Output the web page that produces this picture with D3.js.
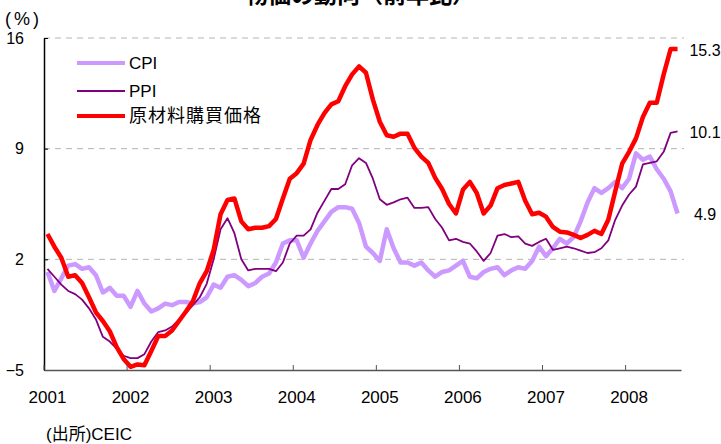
<!DOCTYPE html>
<html>
<head>
<meta charset="utf-8">
<script src="https://cdn.jsdelivr.net/npm/d3@7"></script>
<style>
  body { margin: 0; background: #fff; }
  svg { display: block; font-family: "Liberation Sans", "Noto Sans CJK JP", sans-serif; }
</style>
</head>
<body>
<div id="wrapper"></div>
<script>
// monthly, Jan 2001 - Aug 2008, % y/y
const yearLabels = ["2001", "2002", "2003", "2004", "2005", "2006", "2007", "2008"]
const yTicks = [-5, 2, 9, 16]

const cpi = [
  1.2, 0.0, 0.8, 1.6, 1.7, 1.4, 1.5, 1.0, -0.1, 0.2, -0.3, -0.3,
  -1.0, 0.0, -0.8, -1.3, -1.1, -0.8, -0.9, -0.7, -0.7, -0.8, -0.7, -0.4,
  0.4, 0.2, 0.9, 1.0, 0.7, 0.3, 0.5, 0.9, 1.1, 1.8, 3.0, 3.2,
  3.2, 2.1, 3.0, 3.8, 4.4, 5.0, 5.3, 5.3, 5.2, 4.3, 2.8, 2.4,
  1.9, 3.9, 2.7, 1.8, 1.8, 1.6, 1.8, 1.3, 0.9, 1.2, 1.3, 1.6,
  1.9, 0.9, 0.8, 1.2, 1.4, 1.5, 1.0, 1.3, 1.5, 1.4, 1.9, 2.8,
  2.2, 2.7, 3.3, 3.0, 3.4, 4.4, 5.6, 6.5, 6.2, 6.5, 6.9, 6.5,
  7.1, 8.7, 8.3, 8.5, 7.7, 7.1, 6.3, 4.9
]

const ppi = [
  1.4, 0.9, 0.4, 0.0, -0.2, -0.55, -1.1, -1.8, -2.9, -3.2, -3.65, -4.1,
  -4.25, -4.25, -4.0, -3.2, -2.6, -2.5, -2.25, -1.8, -1.4, -0.9, -0.4, 0.45,
  2.0, 3.9, 4.6, 3.65, 2.0, 1.3, 1.4, 1.4, 1.4, 1.25, 1.8, 3.0,
  3.5, 3.5, 3.9, 4.95, 5.7, 6.45, 6.45, 6.75, 7.95, 8.4, 8.1, 7.1,
  5.8, 5.45, 5.6, 5.8, 5.9, 5.25, 5.25, 5.3, 4.55, 4.0, 3.2, 3.3,
  3.1, 3.0, 2.5, 1.9, 2.4, 3.5, 3.6, 3.4, 3.45, 3.0, 2.85, 3.1,
  3.3, 2.6, 2.7, 2.8, 2.7, 2.55, 2.4, 2.45, 2.7, 3.2, 4.5, 5.4,
  6.1, 6.6, 8.0, 8.1, 8.2, 8.8, 10.0, 10.1
]

const rawMaterial = [
  3.6, 2.8, 2.1, 0.9, 1.0, 0.5, -0.4, -1.35, -1.9, -2.55, -3.55, -4.3,
  -4.8, -4.65, -4.7, -3.8, -2.85, -2.85, -2.5, -1.9, -1.3, -0.65, 0.5, 1.25,
  2.6, 4.85, 5.75, 5.85, 4.4, 3.9, 4.0, 4.0, 4.1, 4.55, 5.85, 7.1,
  7.45, 8.05, 9.55, 10.5, 11.25, 11.8, 12.0, 12.95, 13.7, 14.2, 13.8, 12.1,
  10.7, 9.85, 9.75, 9.95, 9.95, 9.05, 8.5, 8.1, 7.15, 6.45, 5.5, 4.9,
  6.4, 6.9, 6.2, 4.9, 5.4, 6.5, 6.7, 6.8, 6.9, 5.7, 4.85, 4.95,
  4.7, 4.05, 3.75, 3.7, 3.55, 3.35, 3.55, 3.8, 3.6, 4.5, 6.3, 8.05,
  8.8, 9.65, 11.0, 11.9, 11.9, 13.7, 15.3, 15.3
]

const seriesNames = ["CPI", "PPI", "原材料購買価格"]

function drawChart() {
  // 1. series
  const series = [
    { name: seriesNames[0], values: cpi, color: "#cc99ff", width: 4.5 },
    { name: seriesNames[1], values: ppi, color: "#800080", width: 1.8 },
    { name: seriesNames[2], values: rawMaterial, color: "#ff0000", width: 4.5 },
  ]

  // 2. dimensions
  let dimensions = {
    width: 721,
    height: 444,
    margin: { top: 38, right: 40, bottom: 74, left: 44 }
  }
  dimensions.boundedWidth = dimensions.width
    - dimensions.margin.left - dimensions.margin.right
  dimensions.boundedHeight = dimensions.height
    - dimensions.margin.top - dimensions.margin.bottom

  // 3. canvas
  const wrapper = d3.select("#wrapper")
    .append("svg")
      .attr("width", dimensions.width)
      .attr("height", dimensions.height)

  // title is cut off at the top edge, as in the original
  wrapper.append("text")
      .attr("x", 360)
      .attr("y", 3)
      .attr("text-anchor", "middle")
      .style("font-size", "23px")
      .style("font-weight", "bold")
      .text("物価の動向（前年比）")

  wrapper.append("text")
      .attr("x", 5)
      .attr("y", 25)
      .style("font-size", "18px")
      .style("letter-spacing", "3px")
      .text("(%)")

  wrapper.append("text")
      .attr("x", 46)
      .attr("y", 440)
      .style("font-size", "17px")
      .text("(出所)CEIC")

  const bounds = wrapper.append("g")
      .attr("transform", `translate(${dimensions.margin.left},${dimensions.margin.top})`)

  // 4. scales
  const n = cpi.length
  const xScale = d3.scaleBand()
    .domain(d3.range(n))
    .range([0, dimensions.boundedWidth])
  const xMid = i => xScale(i) + xScale.bandwidth() / 2

  const yScale = d3.scaleLinear()
    .domain([-5, 16])
    .range([dimensions.boundedHeight, 0])

  // gridlines
  bounds.append("g")
    .selectAll("line")
    .data(yTicks.filter(d => d > -5))
    .join("line")
      .attr("x1", 0)
      .attr("x2", dimensions.boundedWidth + 3)
      .attr("y1", d => yScale(d))
      .attr("y2", d => yScale(d))
      .attr("stroke", "#b4b4b4")
      .attr("stroke-width", 1)
      .attr("stroke-dasharray", "6,5")

  // 5. lines
  const lineGenerator = values => d3.line()
    .x((d, i) => xMid(i))
    .y(d => yScale(d))(values)

  bounds.append("g")
    .selectAll("path")
    .data(series)
    .join("path")
      .attr("d", d => lineGenerator(d.values))
      .attr("fill", "none")
      .attr("stroke", d => d.color)
      .attr("stroke-width", d => d.width)
      .attr("stroke-linejoin", "round")

  // end value labels
  bounds.append("g")
    .selectAll("text")
    .data(series)
    .join("text")
      .attr("x", dimensions.boundedWidth + 24)
      .attr("y", d => yScale(d.values[n - 1]) + 1)
      .attr("dy", "0.35em")
      .attr("text-anchor", "middle")
      .style("font-size", "16px")
      .text(d => d3.format(".1f")(d.values[n - 1]))

  // 6. axes
  const yAxis = bounds.append("g")
    .call(d3.axisLeft(yScale)
      .tickValues(yTicks)
      .tickSizeInner(-4)
      .tickSizeOuter(0)
      .tickPadding(20))
  yAxis.select(".domain").attr("stroke", "#000").attr("stroke-width", 1.5)
  yAxis.selectAll(".tick line").attr("stroke", "#000")
  yAxis.selectAll(".tick text")
      .style("font-size", "16px")
      .attr("fill", "#000")

  const xAxis = bounds.append("g")
      .attr("transform", `translate(0,${dimensions.boundedHeight})`)
    .call(d3.axisBottom(xScale)
      .tickValues(d3.range(0, n, 12))
      .tickFormat(i => yearLabels[i / 12])
      .tickSizeInner(-5)
      .tickSizeOuter(0)
      .tickPadding(21))
  xAxis.select(".domain").attr("stroke", "#555").attr("stroke-width", 1.5)
  xAxis.selectAll(".tick line")
      .attr("x1", -xScale.bandwidth() / 2)
      .attr("x2", -xScale.bandwidth() / 2)
      .attr("stroke", "#555")
  xAxis.selectAll(".tick text")
      .style("font-size", "17px")
      .attr("fill", "#000")

  // 7. legend
  const legend = bounds.append("g")
      .attr("transform", "translate(33, 25)")
  const legendItems = legend.selectAll("g")
    .data(series)
    .join("g")
      .attr("transform", (d, i) => `translate(0, ${[0, 28, 53][i]})`)
  legendItems.append("line")
      .attr("x1", 0)
      .attr("x2", 48)
      .attr("stroke", d => d.color)
      .attr("stroke-width", d => d.width === 1.8 ? 2 : 4)
  legendItems.append("text")
      .attr("x", 52)
      .attr("dy", "0.35em")
      .style("font-size", (d, i) => i === 2 ? "18px" : "17px")
      .style("letter-spacing", (d, i) => i === 2 ? "1px" : null)
      .text(d => d.name)
}

drawChart()
</script>
</body>
</html>
